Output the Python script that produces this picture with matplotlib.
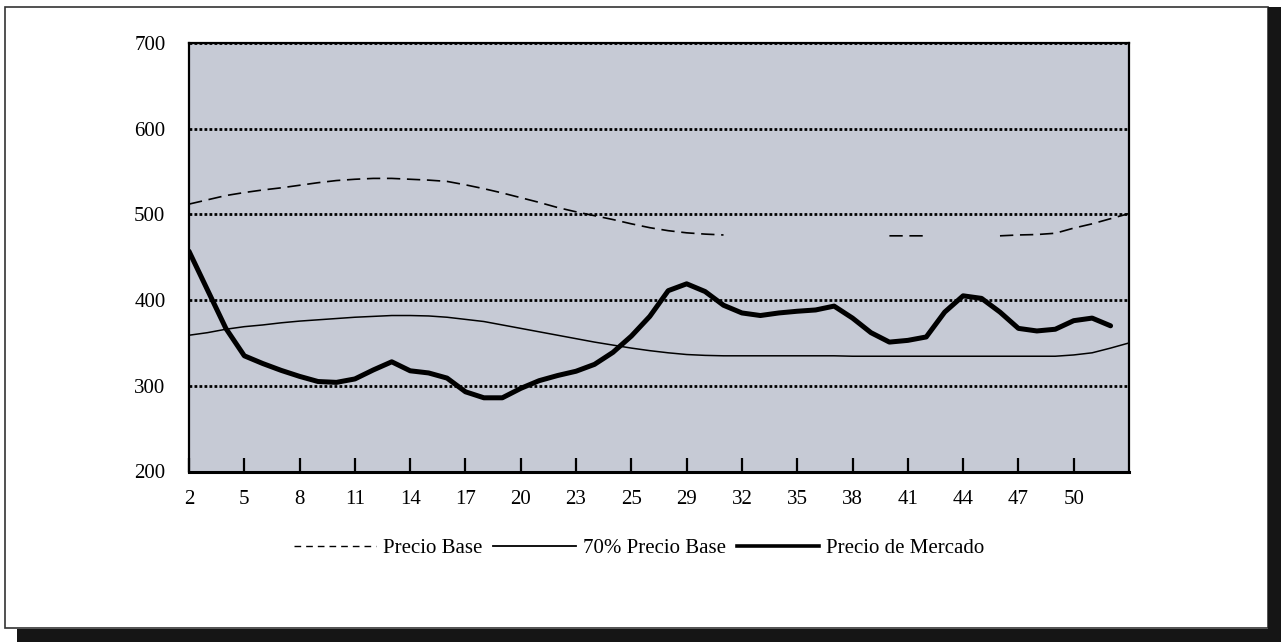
# Precio base, 70% del precio base y precio de mercado por semana

import numpy as np
import matplotlib.pyplot as plt
from matplotlib.lines import Line2D
from matplotlib.patches import Rectangle

nan = np.nan

semanas = list(range(2, 54))
tick_pos = [2, 5, 8, 11, 14, 17, 20, 23, 26, 29, 32, 35, 38, 41, 44, 47, 50]
tick_labels = ['2', '5', '8', '11', '14', '17', '20', '23', '25', '29',
               '32', '35', '38', '41', '44', '47', '50']

precio_base = [512, 517, 522, 525.5, 528.5, 531, 534, 537, 539.5, 541,
               542, 542, 541, 540, 538.5, 534.5, 530, 525, 519.5, 514,
               508, 503, 498.5, 494, 489, 484.5, 481, 478.5, 477, 476,
               nan, nan, nan, nan, nan, nan, nan, nan,
               475, 475, 475,
               nan, nan, nan,
               475, 476, 476.5, 478, 484, 489, 495, 501]

base_70 = [359, 362, 366, 369, 371, 373.5, 375.5, 377, 378.5, 380,
           381, 382, 382, 381.5, 380, 377.5, 375, 371, 367, 363,
           359, 355, 351, 347.5, 344, 341, 338.5, 336.5, 335.5, 335,
           335, 335, 335, 335, 335, 335, 334.5, 334.5, 334.5, 334.5,
           334.5, 334.5, 334.5, 334.5, 334.5, 334.5, 334.5, 334.5, 336,
           338.5, 344, 350]

mercado = [457, 412, 367, 335, 326, 318, 311, 305, 304, 308,
           318.5, 328, 317.5, 315, 309, 293, 286, 286, 297, 306,
           312, 317, 325, 339, 358, 381, 411, 419, 410, 394,
           385, 382, 385, 387, 388.5, 393, 379, 362, 351, 353,
           357, 386, 405, 402, 386, 367, 364, 366, 376, 379,
           370, nan]

plt.rcParams['font.family'] = ['Liberation Serif', 'DejaVu Serif']

fig = plt.figure(figsize=(12.81, 6.42), dpi=100)
ax = fig.add_axes([189 / 1281, 1 - 471.5 / 642, 940 / 1281, 428.5 / 642])
ax.set_facecolor('#c6cad5')

ax.plot(semanas, precio_base, color='black', lw=1.2, ls=(0, (8, 4)), zorder=3)
ax.plot(semanas, base_70, color='black', lw=1.1, zorder=3)
ax.plot(semanas, mercado, color='black', lw=3.6, solid_joinstyle='round',
        solid_capstyle='round', zorder=4)

ax.set_xlim(2, 53)
ax.set_ylim(200, 700)
ax.set_yticks([200, 300, 400, 500, 600, 700])
ax.set_xticks(tick_pos)
ax.set_xticklabels(tick_labels)
ax.yaxis.grid(True, color='black', lw=2.0, ls=(0, (1, 0.8)))
ax.set_axisbelow(True)

ax.tick_params(axis='y', length=0, pad=17, labelsize=15)
ax.tick_params(axis='x', direction='in', length=10, width=1.6, pad=13,
               labelsize=15)
for side in ['left', 'top', 'right']:
    ax.spines[side].set_linewidth(1.6)
ax.spines['bottom'].set_linewidth(2.2)

handles = [
    Line2D([], [], color='black', lw=1, ls=(0, (4.8, 3.6))),
    Line2D([], [], color='black', lw=1.3),
    Line2D([], [], color='black', lw=2.6),
]
fig.legend(handles, ['Precio Base', '70% Precio Base', 'Precio de Mercado'],
           loc='center', bbox_to_anchor=(639 / 1281, 1 - 548 / 642), ncol=3,
           frameon=False, fontsize=15, handlelength=3.95, handletextpad=0.34,
           columnspacing=0.53)

# marco con sombra
fig.patches.append(Rectangle((5 / 1281, 1 - 628 / 642), 1263 / 1281, 621 / 642,
                             transform=fig.transFigure, fill=False,
                             edgecolor='#333333', lw=1.2))
fig.patches.append(Rectangle((17 / 1281, 0), 1264 / 1281, 13 / 642,
                             transform=fig.transFigure, color='#151515', lw=0))
fig.patches.append(Rectangle((1268 / 1281, 0), 13 / 1281, 635 / 642,
                             transform=fig.transFigure, color='#151515', lw=0))

fig.savefig('out.png', dpi=100)
